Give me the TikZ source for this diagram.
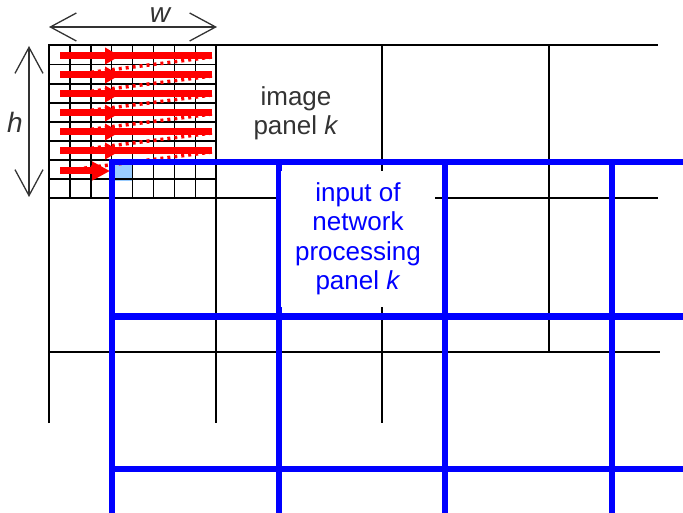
\documentclass[tikz,border=0pt]{standalone}
\usepackage{fontspec}
\setmainfont{Liberation Sans}
\usetikzlibrary{arrows.meta, decorations.markings}
\definecolor{scanred}{HTML}{FF0000}
\definecolor{netblue}{HTML}{0000FF}
\definecolor{cellblue}{HTML}{99CCFF}
\definecolor{inkgray}{HTML}{333333}

\begin{document}
\begin{tikzpicture}[
    x=1pt, y=-1pt,
    panel/.style={draw=black, line width=2.8pt},
    thinpanel/.style={draw=black, line width=1.8pt},
    cell/.style={draw=black, line width=1.5pt},
    netline/.style={draw=netblue, line width=5.5pt},
    scanrow/.style={draw=scanred, line width=7pt, postaction={decorate},
        decoration={markings, mark=at position 60pt with {\arrow{Triangle[length=15pt,width=16pt]}}}},
    scanback/.style={draw=scanred, line width=3.5pt, dash pattern=on 3pt off 4pt},
    dimarrow/.style={{Straight Barb[length=26pt,width=28pt]}-{Straight Barb[length=26pt,width=28pt]}, draw=inkgray, line width=1.3pt},
    label/.style={font=\fontsize{28}{30}\selectfont\itshape, text=inkgray, inner sep=0pt}
]
\useasboundingbox (0,0) rectangle (683,513);

% scanned pixel of the image panel
\fill[cellblue] (112,162) rectangle (133,181);

% pixel grid inside the image panel
\foreach \i in {1,...,7}
  \draw[cell] ({49+\i*20.9},45) -- ({49+\i*20.9},198);
\foreach \j in {1,...,7}
  \draw[cell] (49,{45.7+\j*19.04}) -- (216,{45.7+\j*19.04});

% image panels
\draw[panel] (49,423) -- (49,45) -- (658,45);
\draw[panel] (216,45) -- (216,423);
\draw[panel] (382,45) -- (382,423);
\draw[thinpanel] (549,45) -- (549,352);
\draw[thinpanel] (49,198) -- (658,198);
\draw[thinpanel] (49,352) -- (660,352);

% raster scan
\foreach \r in {0,...,5} {
  \draw[scanback] (212,{57+\r*19}) -- (62,{76+\r*19});
}
\foreach \r in {0,...,5} {
  \draw[scanrow] (60,{56+\r*19}) -- (212,{56+\r*19});
}
\draw[draw=scanred, line width=7pt, -{Triangle[length=18pt,width=18pt]}] (60,171) -- (110,171);

% network processing panels
\draw[netline] (112,513) -- (112,162) -- (683,162);
\foreach \x in {279,445,612}
  \draw[netline] (\x,162) -- (\x,513);
\draw[netline, line width=7pt] (112,316) -- (683,316);
\draw[netline] (112,469) -- (683,469);

% panel size
\coordinate (wl) at (49,27);
\coordinate (wr) at (217,27);
\coordinate (ht) at (29,46);
\coordinate (hb) at (29,197);
\draw[dimarrow] (wl) -- (wr);
\draw[dimarrow] (ht) -- (hb);
\node[label] (wlabel) at (160,15) {w};
\node[label] (hlabel) at (15,122) {h};

% texts
\node[font=\fontsize{26}{29}\selectfont, text=inkgray, align=center] (imgpanel) at (296,113) {image\\panel \textit{k}};
\node[fill=white, text=netblue, minimum width=154pt, minimum height=135pt, inner sep=0pt,
      align=center, font=\fontsize{26}{29.5}\selectfont] (netpanel) at (358,239)
      {input of\\network\\processing\\panel \textit{k}};

\end{tikzpicture}
\end{document}
